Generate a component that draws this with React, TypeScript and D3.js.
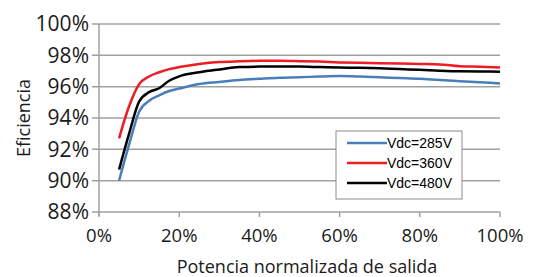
import React from "react";
import * as d3 from "d3";

const xVals = [5, 7.5, 10, 12.5, 15, 17.5, 20, 25, 30, 35, 40, 45, 50, 55, 60, 65, 70, 75, 80, 85, 90, 95, 100];
const vdc285 = [90.0, 92.3, 94.4, 95.1, 95.45, 95.72, 95.88, 96.17, 96.3, 96.42, 96.5, 96.57, 96.6, 96.65, 96.68, 96.65, 96.6, 96.55, 96.5, 96.42, 96.35, 96.28, 96.21];
const vdc360 = [92.7, 94.75, 96.15, 96.65, 96.92, 97.12, 97.25, 97.45, 97.57, 97.62, 97.65, 97.65, 97.63, 97.6, 97.55, 97.52, 97.5, 97.48, 97.45, 97.42, 97.3, 97.27, 97.23];
const vdc480 = [90.7, 93.0, 95.05, 95.65, 95.9, 96.38, 96.66, 96.92, 97.1, 97.25, 97.28, 97.28, 97.28, 97.25, 97.22, 97.2, 97.17, 97.12, 97.08, 97.02, 96.98, 96.97, 96.96];
const seriesNames = ["Vdc=285V", "Vdc=360V", "Vdc=480V"];
const seriesColors = ["#4a7ebb", "#ee1c24", "#000000"];
const yTicks = [88, 90, 92, 94, 96, 98, 100];
const xTicks = [0, 20, 40, 60, 80, 100];

export default function App() {
  const W = 540, H = 277;
  const x = d3.scaleLinear().domain([0, 100]).range([99, 500]);
  const y = d3.scaleLinear().domain([88, 100]).range([212, 24]);
  const series = [vdc285, vdc360, vdc480];
  const line = d3
    .line<[number, number]>()
    .x((d) => x(d[0]))
    .y((d) => y(d[1]))
    .curve(d3.curveMonotoneX);
  const grid = "#a0a0a0";
  const font = "'Open Sans', sans-serif";
  const lx = 336, ly = 131, lw = 126, lh = 68;
  return (
    <svg width={W} height={H} style={{ position: "absolute", left: 0, top: 0 }} fontFamily={font}>
      <rect width={W} height={H} fill="#fff" />
      {yTicks.map((t) => (
        <g key={t}>
          <line x1={92} x2={x(100)} y1={y(t)} y2={y(t)} stroke={grid} strokeWidth={1.5} />
          <text x={89} y={y(t)} dy="0.35em" textAnchor="end" fontSize={21} fill="#1a1a1a">
            {t}%
          </text>
        </g>
      ))}
      <line x1={x(0)} x2={x(0)} y1={y(100)} y2={y(88) + 4} stroke={grid} strokeWidth={1.5} />
      {xTicks.map((t) => (
        <g key={t}>
          <line x1={x(t)} x2={x(t)} y1={y(88)} y2={y(88) + 5} stroke={grid} strokeWidth={1.5} />
          <text x={x(t)} y={241.5} textAnchor="middle" fontSize={18.5} fill="#1a1a1a">
            {t}%
          </text>
        </g>
      ))}
      <text x={307} y={272.5} textAnchor="middle" fontSize={18} fill="#1a1a1a">
        Potencia normalizada de salida
      </text>
      <text transform={`translate(30,118) rotate(-90)`} textAnchor="middle" fontSize={18} fill="#1a1a1a">
        Eficiencia
      </text>
      {series.map((s, i) => (
        <path
          key={i}
          d={line(xVals.map((v, j) => [v, s[j]] as [number, number])) || ""}
          fill="none"
          stroke={seriesColors[i]}
          strokeWidth={2.5}
          strokeLinejoin="round"
        />
      ))}
      <rect x={lx} y={ly} width={lw} height={lh} fill="#fff" stroke="#8c8c8c" strokeWidth={1} />
      {seriesNames.map((n, i) => (
        <g key={n}>
          <line x1={347} x2={387} y1={143 + i * 20} y2={143 + i * 20} stroke={seriesColors[i]} strokeWidth={2.5} />
          <text x={387} y={143 + i * 20} dy="0.36em" fontSize={14} fontFamily="'Liberation Sans', Arial, sans-serif" fill="#000">
            {n}
          </text>
        </g>
      ))}
    </svg>
  );
}
